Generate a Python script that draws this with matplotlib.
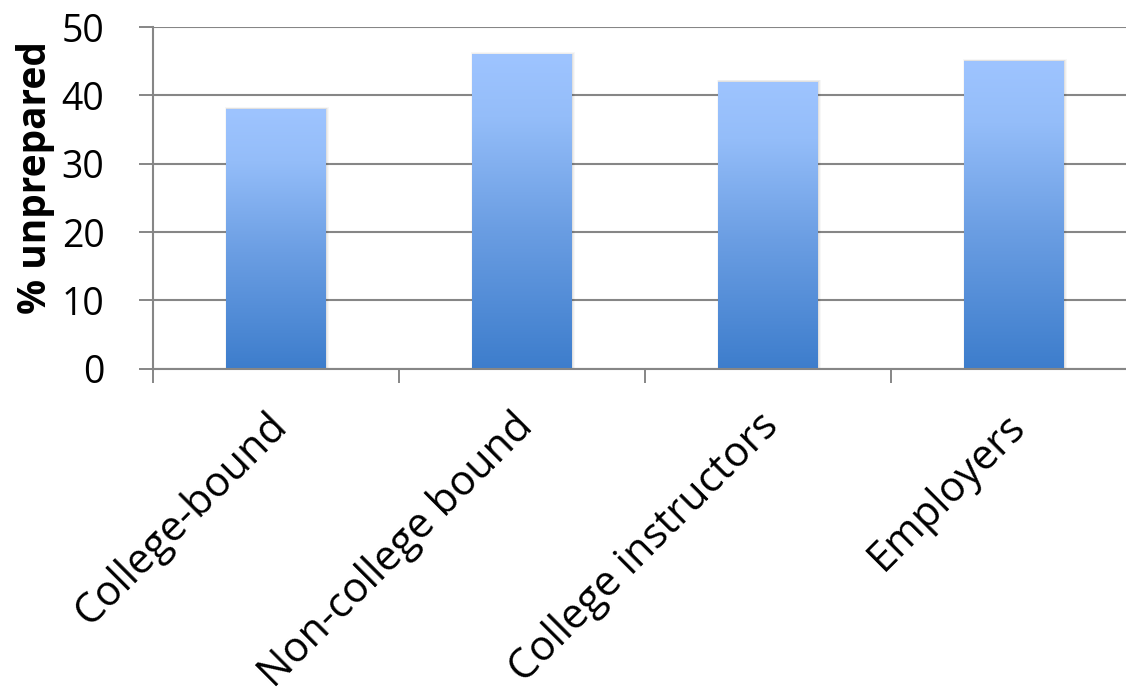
import matplotlib
matplotlib.use("Agg")
import matplotlib.pyplot as plt
import matplotlib.transforms as mtransforms
import numpy as np
from matplotlib.colors import LinearSegmentedColormap
from matplotlib.patches import Rectangle

categories = ["College-bound", "Non-college bound", "College instructors", "Employers"]
values = [38, 46, 42, 45]
yticks = [0, 10, 20, 30, 40, 50]
ylabel = "% unprepared"

plt.rcParams['font.family'] = ['Open Sans', 'DejaVu Sans']

W, H = 1126, 690
fig = plt.figure(figsize=(W / 100, H / 100), dpi=100)
ax = fig.add_axes([153 / W, 1 - 368.7 / H, 984 / W, (368.7 - 27) / H])

x = np.arange(len(categories))
bars = ax.bar(x, values, width=0.404, color='none', edgecolor='none', zorder=3)

cmap = LinearSegmentedColormap.from_list(
    'grad', [(0.0, '#3d7dcc'), (0.45, '#6b9ee3'), (0.8, '#94bdf9'), (1.0, '#9ec4ff')])
grad = np.linspace(0, 1, 256).reshape(-1, 1)
for b in bars:
    x0, y0 = b.get_x(), b.get_y()
    w, h = b.get_width(), b.get_height()
    # soft shadow
    for k, a in enumerate([0.05, 0.04, 0.03]):
        d = 0.004 * (k + 1)
        sh = Rectangle((x0 - d * 0.3, y0), w + d * 1.3, h + 0.1 * (k + 1),
                       facecolor='black', alpha=a, edgecolor='none', zorder=2)
        ax.add_patch(sh)
    im = ax.imshow(grad, extent=[x0, x0 + w, y0, y0 + h], origin='lower',
                   cmap=cmap, aspect='auto', zorder=3, interpolation='bicubic')
    im.set_clip_path(b)

ax.set_xlim(-0.5, len(categories) - 0.5)
ax.set_ylim(0, 50)
ax.set_yticks(yticks)
ax.set_yticklabels([str(t) for t in yticks], fontsize=27)

ax.set_xticks(x)
ax.set_xticklabels(categories, fontsize=30, rotation=45, ha='right',
                   rotation_mode='anchor')
ax.set_xticks(np.arange(len(categories) + 1) - 0.5, minor=True)
ax.tick_params(axis='x', which='major', length=0, pad=26)
ax.tick_params(axis='x', which='minor', length=10, width=1.4, color='#868686',
               direction='out')
ax.tick_params(axis='y', length=10, width=1.4, color='#868686', direction='out',
               pad=25)
shift = mtransforms.ScaledTranslation(-10 / 100, 0, fig.dpi_scale_trans)
for lab in ax.get_xticklabels():
    lab.set_transform(lab.get_transform() + shift)

ax.yaxis.grid(True, color='#868686', linewidth=1.5, zorder=0)
ax.set_axisbelow(True)
for s in ['top', 'right']:
    ax.spines[s].set_visible(False)
for s in ['left', 'bottom']:
    ax.spines[s].set_color('#868686')
    ax.spines[s].set_linewidth(1.5)
    ax.spines[s].set_zorder(4)

ax.set_ylabel(ylabel, fontsize=28, fontweight='bold')
ax.yaxis.set_label_coords(-0.1, 0.56)

fig.savefig("out.png", dpi=100)
